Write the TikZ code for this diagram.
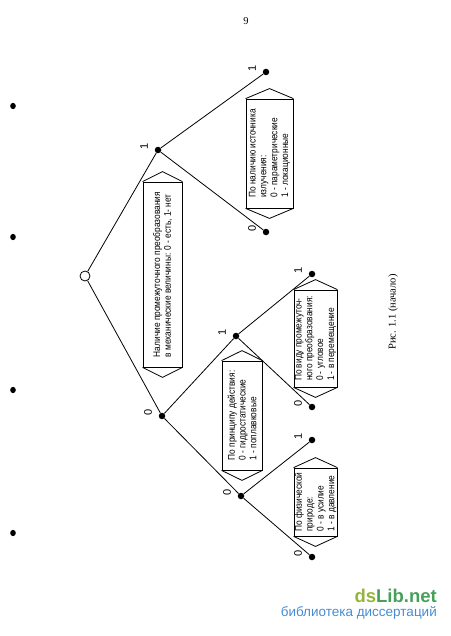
\documentclass[tikz,border=0pt]{standalone}
\usepackage{fontspec}
\setmainfont{Liberation Serif}
\setsansfont{Liberation Sans}
\newfontfamily\boxfont[FakeStretch=0.86]{Liberation Sans}
\usetikzlibrary{calc}

\definecolor{dsgreen}{RGB}{150,180,60}
\definecolor{libgreen}{RGB}{70,160,90}
\definecolor{libblue}{RGB}{70,140,210}

\tikzset{
  dot/.style={circle, fill=black, inner sep=0pt, minimum size=6.5pt},
  rootdot/.style={circle, draw, fill=white, inner sep=0pt, minimum size=10pt, line width=0.8pt},
  edge/.style={line width=0.8pt},
  bit/.style={font=\sffamily\fontsize{11}{11}\selectfont, rotate=90, inner sep=0pt},
  hexbox/.style={draw, line width=0.8pt, rotate=90, align=left, inner xsep=1.5pt, inner ysep=0pt,
    font=\boxfont\fontsize{9.7}{10.8}\selectfont},
}
% pointed ends of a box
\newcommand{\hexcaps}[1]{\draw[edge] (#1.south west) -- ($(#1.west)!-10pt!(#1.east)$) -- (#1.north west)
  (#1.south east) -- ($(#1.east)!-10pt!(#1.west)$) -- (#1.north east);}

\begin{document}
\begin{tikzpicture}[x=1pt, y=-1pt]
    \useasboundingbox (0,0) rectangle (450,636);

    % page number and scan marks
    \node[font=\fontsize{10.5}{10.5}\selectfont] (page) at (246,21) {9};
    \foreach \y in {106,237,390,533}
        \fill (13,\y) ellipse (2.8pt and 3.2pt);

    % tree points
    \node[rootdot] (root) at (85,276) {};
    \node[dot] (n1) at (158,150) {};
    \node[dot] (n0) at (162,416) {};
    \node[dot] (n11) at (266,72) {};
    \node[dot] (n10) at (266,232) {};
    \node[dot] (n01) at (236,336) {};
    \node[dot] (n00) at (241,496) {};
    \node[dot] (n011) at (312,274) {};
    \node[dot] (n010) at (312,407) {};
    \node[dot] (n001) at (312,440) {};
    \node[dot] (n000) at (312,557) {};

    % branches
    \draw[edge] (root) -- (n1);
    \draw[edge] (root) -- (n0);
    \draw[edge] (n1) -- (n11);
    \draw[edge] (n1) -- (n10);
    \draw[edge] (n0) -- (n01);
    \draw[edge] (n0) -- (n00);
    \draw[edge] (n01) -- (n011);
    \draw[edge] (n01) -- (n010);
    \draw[edge] (n00) -- (n001);
    \draw[edge] (n00) -- (n000);

    % 0 / 1 marks
    \foreach \n/\v in {n1/1, n0/0, n11/1, n10/0, n01/1, n00/0, n011/1, n010/0, n001/1, n000/0}
        \node[bit] (b\n) at ($(\n)+(-14,-4)$) {\v};

    % criteria boxes
    \node[hexbox, minimum width=185pt, minimum height=39pt] (q) at (162.5,274.5)
        {Наличие промежуточного преобразования\\в механические величины: 0 - есть, 1- нет};
    \node[hexbox, minimum width=109pt, minimum height=47pt] (src) at (269.5,153.5)
        {По наличию источника\\излучения:\\0 - параметрические\\1 - локационные};
    \node[hexbox, minimum width=109pt, minimum height=40pt] (act) at (242,415.5)
        {По принципу действия:\\0 - гидростатические\\1 - поплавковые};
    \node[hexbox, minimum width=97pt, minimum height=43pt] (conv) at (315.5,338.5)
        {По виду промежуточ-\\ного преобразования:\\0 - угловое\\1 - в перемещение};
    \node[hexbox, minimum width=68pt, minimum height=43pt] (phys) at (315.5,502)
        {По физической\\природе:\\0 - в усилие\\1 - в давление};
    \foreach \b in {q,src,act,conv,phys}
        {\hexcaps{\b}}

    % caption
    \node[rotate=90, font=\fontsize{10.5}{10.5}\selectfont] (cap) at (393,312) {Рис. 1.1 (начало)};

    % watermark
    \node[anchor=south east, inner sep=0pt, font=\sffamily\bfseries\fontsize{18.5}{18.5}\selectfont] (wm) at (437,603)
        {\textcolor{dsgreen}{ds}\textcolor{libgreen}{Lib.net}};
    \node[anchor=north east, inner sep=0pt, text=libblue, font=\sffamily\fontsize{13.5}{13.5}\selectfont] (wmtext) at (437,606)
        {библиотека диссертаций};
\end{tikzpicture}
\end{document}
